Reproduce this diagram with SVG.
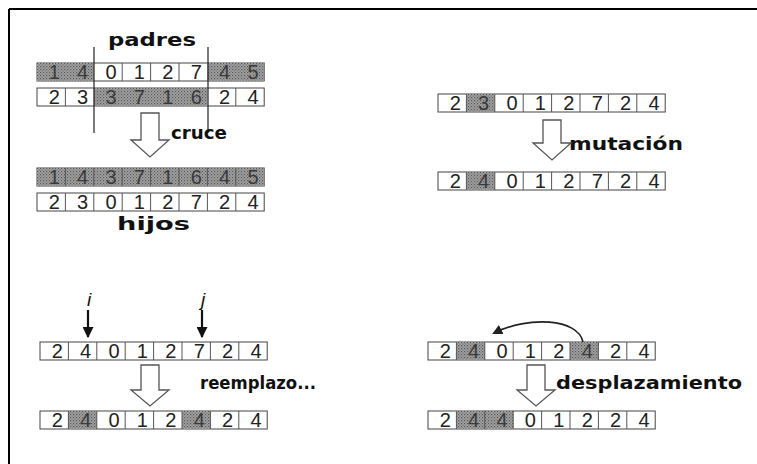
<svg xmlns="http://www.w3.org/2000/svg" width="757" height="464" viewBox="0 0 757 464">
<defs>
<pattern id="dots" width="3" height="3" patternUnits="userSpaceOnUse">
<rect width="3" height="3" fill="#a4a4a4"/>
<rect width="1.2" height="1.2" fill="#555"/>
<rect x="1.5" y="1.5" width="1.2" height="1.2" fill="#6a6a6a"/>
</pattern>
<marker id="ah" viewBox="0 0 10 10" refX="9" refY="5" markerWidth="11" markerHeight="11" orient="auto" markerUnits="userSpaceOnUse">
<path d="M0,0 L10,5 L0,10 Z" fill="#111"/>
</marker>
<marker id="ah2" viewBox="0 0 10 10" refX="8" refY="5" markerWidth="10" markerHeight="10" orient="auto" markerUnits="userSpaceOnUse">
<path d="M0,0 L10,5 L0,10 Z" fill="#222"/>
</marker>
</defs>
<style>
.row{fill:#fff;stroke:#444;stroke-width:1}
.sh{fill:url(#dots);stroke:none}
.div{stroke:#555;stroke-width:1}
.d{font-family:"Liberation Sans",Arial,sans-serif;font-size:20px;fill:#222;text-anchor:middle}
.ds{fill:#3a3a3a}
.lbl{font-family:"DejaVu Sans","Liberation Sans",sans-serif;font-weight:bold;font-size:18px;fill:#111}
.blk{fill:#fff;stroke:#555;stroke-width:1.3}
.ij{font-family:"Liberation Sans",Arial,sans-serif;font-style:italic;font-size:19px;fill:#111;text-anchor:middle}
.pt{stroke:#111;stroke-width:2.2;fill:none}
.cut{stroke:#222;stroke-width:1.2}
</style>
<rect width="757" height="464" fill="#fff"/>
<path d="M9 9 H757 M9 9 V464" stroke="#000" stroke-width="2" fill="none"/>

<!-- Panel: cruce -->
<g id="cruce">
<text class="lbl" x="108" y="46" textLength="88" lengthAdjust="spacingAndGlyphs">padres</text>
<g id="padre1" transform="translate(37,63)">
<rect class="row" width="227.2" height="18"/>
<rect class="sh" x="0" y="0" width="56.8" height="18"/>
<rect class="sh" x="170.4" y="0" width="56.8" height="18"/>
<path class="div" d="M85.2 0V18M113.6 0V18M142 0V18"/>
<text class="d ds" x="17.2" y="16">1</text><text class="d ds" x="45.6" y="16">4</text>
<text class="d" x="74" y="16">0</text><text class="d" x="102.4" y="16">1</text>
<text class="d" x="130.8" y="16">2</text><text class="d" x="159.2" y="16">7</text>
<text class="d ds" x="187.6" y="16">4</text><text class="d ds" x="216" y="16">5</text>
</g>
<g id="padre2" transform="translate(37,88)">
<rect class="row" width="227.2" height="18"/>
<rect class="sh" x="56.8" y="0" width="113.6" height="18"/>
<path class="div" d="M28.4 0V18M198.8 0V18"/>
<text class="d" x="17.2" y="16">2</text><text class="d" x="45.6" y="16">3</text>
<text class="d ds" x="74" y="16">3</text><text class="d ds" x="102.4" y="16">7</text>
<text class="d ds" x="130.8" y="16">1</text><text class="d ds" x="159.2" y="16">6</text>
<text class="d" x="187.6" y="16">2</text><text class="d" x="216" y="16">4</text>
</g>
<path class="cut" d="M94 47 V133 M208 47 V133"/>
<text class="lbl" x="171" y="139" textLength="56" lengthAdjust="spacingAndGlyphs">cruce</text>
<g id="hijo1" transform="translate(37,168)">
<rect class="row" width="227.2" height="18"/>
<rect class="sh" x="0" y="0" width="227.2" height="18"/>
<path class="div" d="M28.4 0V18M56.8 0V18M85.2 0V18M113.6 0V18M142 0V18M170.4 0V18M198.8 0V18"/>
<text class="d ds" x="17.2" y="16">1</text><text class="d ds" x="45.6" y="16">4</text>
<text class="d ds" x="74" y="16">3</text><text class="d ds" x="102.4" y="16">7</text>
<text class="d ds" x="130.8" y="16">1</text><text class="d ds" x="159.2" y="16">6</text>
<text class="d ds" x="187.6" y="16">4</text><text class="d ds" x="216" y="16">5</text>
</g>
<g id="hijo2" transform="translate(37,193)">
<rect class="row" width="227.2" height="18"/>
<path class="div" d="M28.4 0V18M56.8 0V18M85.2 0V18M113.6 0V18M142 0V18M170.4 0V18M198.8 0V18"/>
<text class="d" x="17.2" y="16">2</text><text class="d" x="45.6" y="16">3</text>
<text class="d" x="74" y="16">0</text><text class="d" x="102.4" y="16">1</text>
<text class="d" x="130.8" y="16">2</text><text class="d" x="159.2" y="16">7</text>
<text class="d" x="187.6" y="16">2</text><text class="d" x="216" y="16">4</text>
</g>
<text class="lbl" x="117" y="230" textLength="73" lengthAdjust="spacingAndGlyphs">hijos</text>
</g>

<!-- Panel: mutación -->
<g id="mutacion">
<g id="mut1" transform="translate(438,94)">
<rect class="row" width="227.2" height="18"/>
<rect class="sh" x="28.4" y="0" width="28.4" height="18"/>
<path class="div" d="M28.4 0V18M56.8 0V18M85.2 0V18M113.6 0V18M142 0V18M170.4 0V18M198.8 0V18"/>
<text class="d" x="17.2" y="16">2</text><text class="d ds" x="45.6" y="16">3</text>
<text class="d" x="74" y="16">0</text><text class="d" x="102.4" y="16">1</text>
<text class="d" x="130.8" y="16">2</text><text class="d" x="159.2" y="16">7</text>
<text class="d" x="187.6" y="16">2</text><text class="d" x="216" y="16">4</text>
</g>
<text class="lbl" x="569" y="150" textLength="114" lengthAdjust="spacingAndGlyphs">mutación</text>
<g id="mut2" transform="translate(438,172)">
<rect class="row" width="227.2" height="18"/>
<rect class="sh" x="28.4" y="0" width="28.4" height="18"/>
<path class="div" d="M28.4 0V18M56.8 0V18M85.2 0V18M113.6 0V18M142 0V18M170.4 0V18M198.8 0V18"/>
<text class="d" x="17.2" y="16">2</text><text class="d ds" x="45.6" y="16">4</text>
<text class="d" x="74" y="16">0</text><text class="d" x="102.4" y="16">1</text>
<text class="d" x="130.8" y="16">2</text><text class="d" x="159.2" y="16">7</text>
<text class="d" x="187.6" y="16">2</text><text class="d" x="216" y="16">4</text>
</g>
</g>

<!-- Panel: reemplazo -->
<g id="reemplazo">
<text class="ij" x="89" y="306">i</text>
<text class="ij" x="203" y="306">j</text>
<g id="rem1" transform="translate(40,342)">
<rect class="row" width="227.2" height="18"/>
<path class="div" d="M28.4 0V18M56.8 0V18M85.2 0V18M113.6 0V18M142 0V18M170.4 0V18M198.8 0V18"/>
<text class="d" x="17.2" y="16">2</text><text class="d" x="45.6" y="16">4</text>
<text class="d" x="74" y="16">0</text><text class="d" x="102.4" y="16">1</text>
<text class="d" x="130.8" y="16">2</text><text class="d" x="159.2" y="16">7</text>
<text class="d" x="187.6" y="16">2</text><text class="d" x="216" y="16">4</text>
</g>
<text class="lbl" x="200" y="389" textLength="116" lengthAdjust="spacingAndGlyphs">reemplazo...</text>
<g id="rem2" transform="translate(40,411)">
<rect class="row" width="227.2" height="18"/>
<rect class="sh" x="28.4" y="0" width="28.4" height="18"/>
<rect class="sh" x="142" y="0" width="28.4" height="18"/>
<path class="div" d="M28.4 0V18M56.8 0V18M85.2 0V18M113.6 0V18M142 0V18M170.4 0V18M198.8 0V18"/>
<text class="d" x="17.2" y="16">2</text><text class="d ds" x="45.6" y="16">4</text>
<text class="d" x="74" y="16">0</text><text class="d" x="102.4" y="16">1</text>
<text class="d" x="130.8" y="16">2</text><text class="d ds" x="159.2" y="16">4</text>
<text class="d" x="187.6" y="16">2</text><text class="d" x="216" y="16">4</text>
</g>
</g>

<!-- Panel: desplazamiento -->
<g id="desplazamiento">
<g id="des1" transform="translate(428,342)">
<rect class="row" width="227.2" height="18"/>
<rect class="sh" x="28.4" y="0" width="28.4" height="18"/>
<rect class="sh" x="142" y="0" width="28.4" height="18"/>
<path class="div" d="M28.4 0V18M56.8 0V18M85.2 0V18M113.6 0V18M142 0V18M170.4 0V18M198.8 0V18"/>
<text class="d" x="17.2" y="16">2</text><text class="d ds" x="45.6" y="16">4</text>
<text class="d" x="74" y="16">0</text><text class="d" x="102.4" y="16">1</text>
<text class="d" x="130.8" y="16">2</text><text class="d ds" x="159.2" y="16">4</text>
<text class="d" x="187.6" y="16">2</text><text class="d" x="216" y="16">4</text>
</g>
<text class="lbl" x="556" y="389" textLength="186" lengthAdjust="spacingAndGlyphs">desplazamiento</text>
<g id="des2" transform="translate(428,411)">
<rect class="row" width="227.2" height="18"/>
<rect class="sh" x="28.4" y="0" width="56.8" height="18"/>
<path class="div" d="M28.4 0V18M56.8 0V18M85.2 0V18M113.6 0V18M142 0V18M170.4 0V18M198.8 0V18"/>
<text class="d" x="17.2" y="16">2</text><text class="d ds" x="45.6" y="16">4</text>
<text class="d ds" x="74" y="16">4</text><text class="d" x="102.4" y="16">0</text>
<text class="d" x="130.8" y="16">1</text><text class="d" x="159.2" y="16">2</text>
<text class="d" x="187.6" y="16">2</text><text class="d" x="216" y="16">4</text>
</g>
</g>

<!-- Connectors -->
<g id="connectors">
<path class="blk" d="M141 113 V140 H131 L150 157 L169 140 H159 V113 Z"/>
<path class="blk" d="M543 120 V143 H533 L552 160 L571 143 H561 V120 Z"/>
<path class="blk" d="M141 365 V390 H131 L150 406 L169 390 H159 V365 Z"/>
<path class="blk" d="M527 365 V390 H517 L536 406 L555 390 H545 V365 Z"/>
<path class="pt" d="M88 310 V337" marker-end="url(#ah)"/>
<path class="pt" d="M202 310 V337" marker-end="url(#ah)"/>
<path d="M583 342 C578 318 528 316 494 333" stroke="#222" stroke-width="1.6" fill="none" marker-end="url(#ah2)"/>
</g>
</svg>
